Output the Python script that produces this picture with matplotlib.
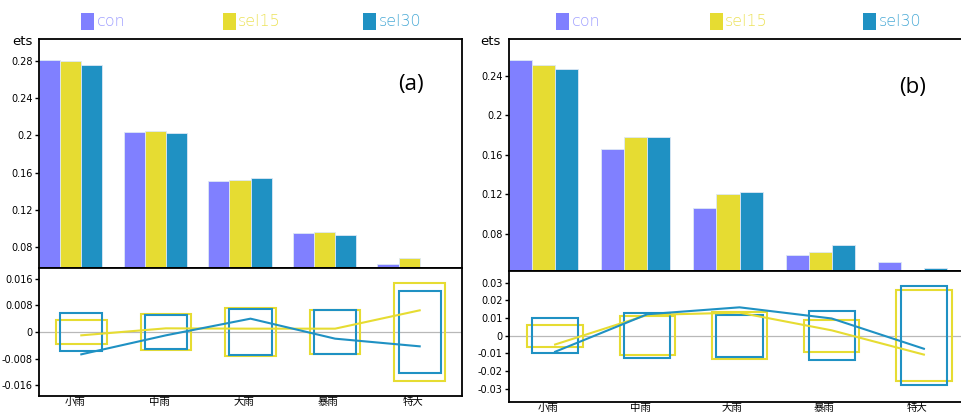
import matplotlib
matplotlib.use("Agg")
import matplotlib.pyplot as plt
from matplotlib.patches import Rectangle
import numpy as np

plt.rcParams['font.family'] = ['DejaVu Sans', 'Noto Sans CJK SC']

categories = ['小雨', '中雨', '大雨', '暴雨', '特大']
series_names = ['con', 'sel15', 'sel30']

# panel (a)
a_con = [0.2807, 0.2035, 0.1508, 0.0957, 0.0624]
a_sel15 = [0.2797, 0.2046, 0.1518, 0.0967, 0.0689]
a_sel30 = [0.2750, 0.2025, 0.1543, 0.0935, 0.0579]
a_diff15 = [-0.0010, 0.0011, 0.0010, 0.0010, 0.0065]
a_diff30 = [-0.0067, -0.0010, 0.0040, -0.0020, -0.0043]
a_box15 = [0.0037, 0.0054, 0.0071, 0.0067, 0.0146]
a_box30 = [0.0058, 0.0051, 0.0070, 0.0066, 0.0122]
a_top_ticks = [0.08, 0.12, 0.16, 0.2, 0.24, 0.28]
a_top_labels = ['0.08', '0.12', '0.16', '0.2', '0.24', '0.28']
a_bot_ticks = [-0.016, -0.008, 0, 0.008, 0.016]
a_bot_labels = ['-0.016', '-0.008', '0', '0.008', '0.016']

# panel (b)
b_con = [0.2563, 0.1664, 0.1065, 0.0589, 0.0518]
b_sel15 = [0.2512, 0.1786, 0.1200, 0.0613, 0.0411]
b_sel30 = [0.2474, 0.1786, 0.1227, 0.0681, 0.0450]
b_diff15 = [-0.0050, 0.0117, 0.0130, 0.0030, -0.0107]
b_diff30 = [-0.0091, 0.0121, 0.0160, 0.0097, -0.0074]
b_box15 = [0.0063, 0.0111, 0.0132, 0.0091, 0.0258]
b_box30 = [0.0097, 0.0128, 0.0118, 0.0140, 0.0281]
b_top_ticks = [0.08, 0.12, 0.16, 0.2, 0.24]
b_top_labels = ['0.08', '0.12', '0.16', '0.2', '0.24']
b_bot_ticks = [-0.03, -0.02, -0.01, 0, 0.01, 0.02, 0.03]
b_bot_labels = ['-0.03', '-0.02', '-0.01', '0', '0.01', '0.02', '0.03']

C_CON = '#8080ff'
C_S15 = '#e6dc32'
C_S30 = '#1f91c3'
T_CON = '#a0a0ff'
T_S15 = '#ece25a'
T_S30 = '#4aaad6'

W, H = 961, 416
fig = plt.figure(figsize=(W / 100, H / 100), dpi=100)


def rect(x0, y0, x1, y1):
    return [x0 / W, 1 - y1 / H, (x1 - x0) / W, (y1 - y0) / H]


def style_axis(ax, ticks, labels):
    for s in ax.spines.values():
        s.set_linewidth(1.3)
        s.set_color('black')
    ax.set_yticks(ticks)
    ax.set_yticklabels(labels)
    ax.tick_params(axis='y', direction='out', length=3, width=1, pad=1.5,
                   labelsize=7)
    ax.set_xlim(-0.5, 4.5)


def panel(top_rect, bot_rect, con, s15, s30, d15, d30, bx15, bx30,
          top_ylim, bot_ylim, tt, tl, bt, bl, tag, tagpos, label_y_pad):
    ax = fig.add_axes(rect(*top_rect))
    x = np.arange(len(categories))
    bw = 0.25
    for off, vals, c in [(-0.375, con, C_CON), (-0.125, s15, C_S15),
                         (0.125, s30, C_S30)]:
        ax.bar(x + off, vals, width=bw, color=c, edgecolor='#dde8f5',
               linewidth=0.6)
    ax.set_ylim(*top_ylim)
    style_axis(ax, tt, tl)
    ax.set_xticks([])
    ax.text(tagpos[0], tagpos[1], tag, transform=ax.transAxes, fontsize=16,
            family='Open Sans', ha='center', va='center')

    ab = fig.add_axes(rect(*bot_rect))
    ab.axhline(0, color='#b8b8b8', lw=0.9, zorder=1)
    for i in x:
        ab.add_patch(Rectangle((i - 0.3, -bx15[i]), 0.6, 2 * bx15[i],
                               fill=False, edgecolor=C_S15, lw=1.5, zorder=2))
        ab.add_patch(Rectangle((i - 0.25, -bx30[i]), 0.5, 2 * bx30[i],
                               fill=False, edgecolor=C_S30, lw=1.5, zorder=3))
    ab.plot(x, d15, color=C_S15, lw=1.5, zorder=4)
    ab.plot(x, d30, color=C_S30, lw=1.5, zorder=5)
    ab.set_ylim(*bot_ylim)
    style_axis(ab, bt, bl)
    ab.set_xticks(x - 0.08)
    ab.set_xticklabels(categories, family=['Noto Sans CJK SC'], fontsize=7.5)
    ab.tick_params(axis='x', length=0, pad=label_y_pad)
    return ax, ab


panel((39, 39, 462, 268), (39, 268, 462, 396),
      a_con, a_sel15, a_sel30, a_diff15, a_diff30, a_box15, a_box30,
      (0.0578, 0.3033), (-0.0192, 0.0192),
      a_top_ticks, a_top_labels, a_bot_ticks, a_bot_labels,
      '(a)', (0.88, 0.8), 1)

panel((509, 39, 970, 270.5), (509, 270.5, 970, 401.7),
      b_con, b_sel15, b_sel30, b_diff15, b_diff30, b_box15, b_box30,
      (0.0427, 0.2776), (-0.0373, 0.0368),
      b_top_ticks, b_top_labels, b_bot_ticks, b_bot_labels,
      '(b)', (0.876, 0.79), 1)

# y-axis label "ets"
fig.text(12 / W, 1 - 45 / H, 'ets', fontsize=9.5, ha='left', va='baseline')
fig.text(480 / W, 1 - 45 / H, 'ets', fontsize=9.5, ha='left', va='baseline')

# legends
def legend(items):
    for (sx, label, c, tc) in items:
        fig.add_artist(Rectangle((sx / W, 1 - 30 / H), 13 / W, 17 / H,
                                 transform=fig.transFigure, color=c, lw=0))
        fig.text((sx + 15.5) / W, 1 - 21.5 / H, label, color=tc, fontsize=11.5,
                 ha='left', va='center', family='DejaVu Sans',
                 fontweight='light')

legend([(81, series_names[0], C_CON, T_CON),
        (222.5, series_names[1], C_S15, T_S15),
        (363, series_names[2], C_S30, T_S30)])
legend([(556, series_names[0], C_CON, T_CON),
        (709.5, series_names[1], C_S15, T_S15),
        (863, series_names[2], C_S30, T_S30)])

fig.savefig('out.png', dpi=100)
